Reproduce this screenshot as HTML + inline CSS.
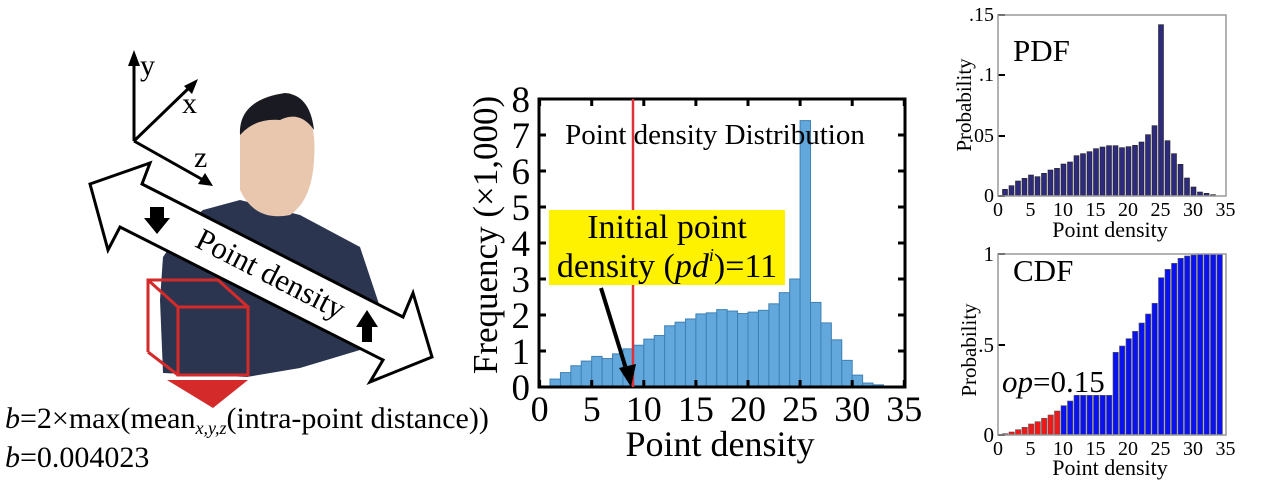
<!DOCTYPE html>
<html><head><meta charset="utf-8"><style>
html,body{margin:0;padding:0;background:#fff;}
svg{display:block;}
svg text, svg tspan{font-family:"Liberation Serif","Times New Roman",serif;}
</style></head><body>
<svg id="s" width="1261" height="482" viewBox="0 0 1261 482" xmlns="http://www.w3.org/2000/svg" font-family="Liberation Serif, serif">
<path d="M203,210 L240,200 L300,215 L360,247 L380,307 L372,340 L360,350 L300,368 L247,377 L163,373 L160,300 L163,257 L185,225 Z" fill="#2b3550"/>
<path d="M240,130 Q245,95 290,93 Q318,110 314,160 Q312,200 290,215 Q255,222 240,190 Z" fill="#e8c7ae"/>
<path d="M240,135 Q238,100 285,93 Q310,95 314,130 Q300,110 280,120 Q255,118 240,135 Z" fill="#1a1a22"/>
<g stroke="#000" stroke-width="3" fill="none">
<line x1="134" y1="141" x2="134" y2="60"/>
<line x1="134" y1="141" x2="192" y2="85"/>
<line x1="134" y1="141" x2="205" y2="181"/>
</g>
<polygon points="134,50 128,66 140,66" fill="#000"/>
<polygon points="198,79 184,86 192,94" fill="#000"/>
<polygon points="213,186 198,184 205,173" fill="#000"/>
<text x="140" y="75" font-size="30">y</text>
<text x="182" y="113" font-size="30">x</text>
<text x="194" y="167" font-size="30">z</text>
<polygon points="90,184 150,163 142,184 403,317 413,293 432,357 370,382 383,360 120,227 108,250" fill="#fff" stroke="#000" stroke-width="3" stroke-linejoin="miter"/>
<text x="0" y="0" font-size="31" text-anchor="middle" transform="translate(266,283) rotate(27)">Point density</text>
<polygon points="150,207 164,207 164,218 170,218 157,234 144,218 150,218" fill="#000"/>
<polygon points="362,342 372,342 372,327 378,327 367,310 356,327 362,327" fill="#000"/>
<g stroke="#d42a2a" stroke-width="3" fill="none">
<rect x="178" y="307" width="70" height="68"/>
<polyline points="148,352 148,280 218,280 248,307"/>
<line x1="148" y1="280" x2="178" y2="307"/>
<line x1="148" y1="352" x2="178" y2="375"/>
</g>
<polygon points="167,380 248,380 213,408" fill="#d42a2a"/>
<text x="5" y="428" font-size="30"><tspan font-style="italic">b</tspan>=2×max(mean<tspan font-size="18" font-style="italic" dy="6">x,y,z</tspan><tspan dy="-6">(intra-point distance))</tspan></text>
<text x="5" y="467" font-size="30"><tspan font-style="italic">b</tspan>=0.004023</text>

<g id="main"></g>
<rect x="539" y="99" width="366" height="288" fill="none" stroke="#000" stroke-width="3"/>
<line x1="633" y1="99" x2="633" y2="387" stroke="#e0313a" stroke-width="2.5"/>
<text x="715" y="144" font-size="29" text-anchor="middle">Point density Distribution</text>
<rect x="549" y="210" width="236" height="75" fill="#fff200"/>
<text x="667" y="238" font-size="34" text-anchor="middle">Initial point</text>
<text x="667" y="277" font-size="34" text-anchor="middle">density (<tspan font-style="italic">pd</tspan><tspan font-size="18" font-style="italic" dy="-16">i</tspan><tspan dy="16">)=11</tspan></text>
<line x1="601" y1="288" x2="627" y2="372" stroke="#000" stroke-width="4"/>
<polygon points="631,387 619,368 636,364" fill="#000"/>
<text transform="translate(497,235) rotate(-90)" font-size="35" text-anchor="middle">Frequency (×1,000)</text>
<text x="720" y="456" font-size="36" text-anchor="middle">Point density</text>

<g id="pdf"></g>
<rect x="998" y="15" width="228" height="181" fill="none" stroke="#999" stroke-width="1.5"/>
<text x="1013" y="61" font-size="31">PDF</text>
<text transform="translate(971,105) rotate(-90)" font-size="21" text-anchor="middle">Probability</text>
<text x="1110" y="237" font-size="22" text-anchor="middle">Point density</text>

<g id="cdf"></g>
<rect x="998" y="254" width="228" height="181" fill="none" stroke="#999" stroke-width="1.5"/>
<text x="1013" y="281" font-size="31">CDF</text>
<text x="1002" y="392" font-size="31"><tspan font-style="italic">op</tspan>=0.15</text>
<text transform="translate(976,350) rotate(-90)" font-size="21" text-anchor="middle">Probability</text>
<text x="1110" y="475" font-size="22" text-anchor="middle">Point density</text>
</svg>
<script>
var NS="http://www.w3.org/2000/svg";
function el(p,t,a,txt){var e=document.createElementNS(NS,t);for(var k in a)e.setAttribute(k,a[k]);if(txt!==undefined)e.textContent=txt;p.appendChild(e);return e;}
var m=document.getElementById("main");
var vals=[.22,.40,.59,.72,.85,.79,.92,1.06,1.16,1.33,1.43,1.70,1.80,1.89,2.03,2.06,2.15,2.11,2.04,2.08,2.13,2.31,2.62,3.0,7.40,2.35,1.78,1.31,.74,.33,.11,.06];
function X(v){return 539.6+10.42*v;}
vals.forEach(function(h,i){var v=i+1;el(m,"rect",{x:X(v),y:387-h*36,width:10.42,height:h*36,fill:"#62a8dc",stroke:"#3f80b3","stroke-width":1});});
for(var k=0;k<=8;k++){var y=387-36*k;
 el(m,"line",{x1:539,y1:y,x2:546,y2:y,stroke:"#000","stroke-width":3});
 el(m,"line",{x1:898,y1:y,x2:905,y2:y,stroke:"#000","stroke-width":3});
 el(m,"text",{x:530,y:y+13,"font-size":37,"text-anchor":"end"},""+k);}
for(var k=0;k<=35;k+=5){var x=X(k);
 el(m,"line",{x1:x,y1:387,x2:x,y2:380,stroke:"#000","stroke-width":3});
 el(m,"line",{x1:x,y1:99,x2:x,y2:106,stroke:"#000","stroke-width":3});
 el(m,"text",{x:x,y:421,"font-size":36,"text-anchor":"middle"},""+k);}
var p=document.getElementById("pdf");
var pz=[568,557,543,535,525,530,520,510,505,492,486,467,461,455,446,441,437,437,443,440,436,426,404,377,74,422,461,493,534,561,576,580,584];
function PX(v){return 998+6.5*v;}
pz.forEach(function(z,i){var v=i+1,t=z/3;el(p,"rect",{x:PX(v)-2,y:t,width:5,height:196-t,fill:"#2e2a7c",stroke:"#222","stroke-width":.6});});
[[".15",15],[".1",75],[".05",136],["0",196]].forEach(function(a){el(p,"line",{x1:998,y1:a[1],x2:1005,y2:a[1],stroke:"#000","stroke-width":2});el(p,"text",{x:994,y:a[1]+6,"font-size":20,"text-anchor":"end"},a[0]);});
for(var k=0;k<=35;k+=5)el(p,"text",{x:PX(k),y:216,"font-size":20,"text-anchor":"middle"},""+k);
var c=document.getElementById("cdf");
var cz=[1301,1296,1289,1282,1272,1265,1255,1245,1233,1217,1203,1186,1186,1186,1186,1186,1186,1057,1038,1016,994,969,942,910,833,808,790,775,768,765,762,762,762,762];
cz.forEach(function(z,i){var v=i+1,t=z/3;el(c,"rect",{x:PX(v)-2,y:t,width:5.4,height:435-t,fill:v<=9?"#f01818":"#0a12f0",stroke:"#555","stroke-width":.6});});
[["1",254],[".5",345],["0",435]].forEach(function(a){el(c,"line",{x1:998,y1:a[1],x2:1005,y2:a[1],stroke:"#000","stroke-width":2});el(c,"text",{x:994,y:a[1]+7,"font-size":21,"text-anchor":"end"},a[0]);});
for(var k=0;k<=35;k+=5)el(c,"text",{x:PX(k),y:455,"font-size":20,"text-anchor":"middle"},""+k);
</script>
</body></html>
